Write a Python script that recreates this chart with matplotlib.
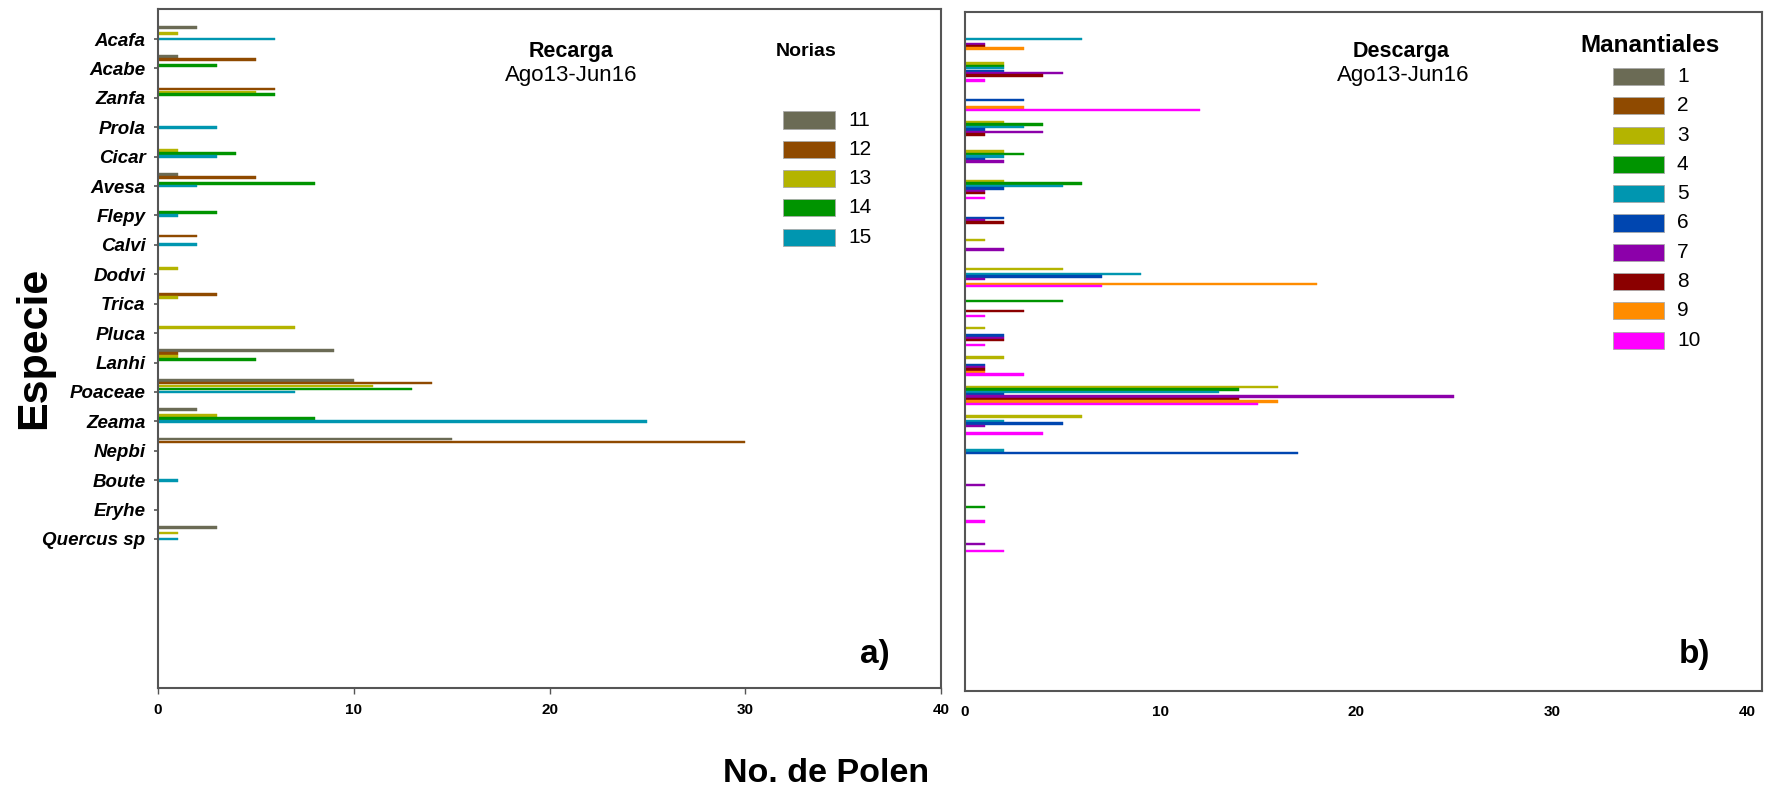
import matplotlib
matplotlib.use("Agg")
import matplotlib.pyplot as plt
from matplotlib.patches import Rectangle
import numpy as np

plt.rcParams['font.family'] = ['Liberation Sans', 'DejaVu Sans']

# ---------------- data ----------------
species = ['Acafa', 'Acabe', 'Zanfa', 'Prola', 'Cicar', 'Avesa', 'Flepy', 'Calvi',
           'Dodvi', 'Trica', 'Pluca', 'Lanhi', 'Poaceae', 'Zeama', 'Nepbi',
           'Boute', 'Eryhe', 'Quercus sp']

# Recarga - Norias 11..15
norias_labels = ['11', '12', '13', '14', '15']
n11 = [2, 1, 0, 0, 0, 1, 0, 0, 0, 0, 0, 9, 10, 2, 15, 0, 0, 3]
n12 = [0, 5, 6, 0, 0, 5, 0, 2, 0, 3, 0, 1, 14, 0, 30, 0, 0, 0]
n13 = [1, 0, 5, 0, 1, 0, 0, 0, 1, 1, 7, 1, 11, 3, 0, 0, 0, 1]
n14 = [0, 3, 6, 0, 4, 8, 3, 0, 0, 0, 0, 5, 13, 8, 0, 0, 0, 0]
n15 = [6, 0, 0, 3, 3, 2, 1, 2, 0, 0, 0, 0, 7, 25, 0, 1, 0, 1]

# Descarga - Manantiales 1..10
man_labels = ['1', '2', '3', '4', '5', '6', '7', '8', '9', '10']
m1 = [0, 0, 0, 0, 0, 0, 0, 0, 0, 0, 0, 0, 0, 0, 0, 0, 0, 0]
m2 = [0, 0, 0, 0, 0, 0, 0, 0, 0, 0, 0, 0, 0, 0, 0, 0, 0, 0]
m3 = [0, 2, 0, 2, 2, 2, 0, 1, 5, 0, 1, 2, 16, 6, 0, 0, 0, 0]
m4 = [0, 2, 0, 4, 3, 6, 0, 0, 0, 5, 0, 0, 14, 0, 0, 0, 1, 0]
m5 = [6, 2, 0, 3, 2, 5, 0, 0, 9, 0, 0, 0, 13, 2, 2, 0, 0, 0]
m6 = [0, 2, 3, 1, 1, 2, 2, 0, 7, 0, 2, 1, 2, 5, 17, 0, 0, 0]
m7 = [1, 5, 0, 4, 2, 1, 1, 2, 1, 0, 2, 1, 25, 1, 0, 1, 0, 1]
m8 = [1, 4, 0, 1, 0, 1, 2, 0, 0, 3, 2, 1, 14, 0, 0, 0, 0, 0]
m9 = [3, 0, 3, 0, 0, 0, 0, 0, 18, 0, 0, 1, 16, 0, 0, 0, 0, 0]
m10 = [0, 1, 12, 0, 0, 1, 0, 0, 7, 1, 1, 3, 15, 4, 0, 0, 1, 2]

norias = [n11, n12, n13, n14, n15]
manantiales = [m1, m2, m3, m4, m5, m6, m7, m8, m9, m10]

norias_colors = ['#6b6b55', '#8f4a00', '#b4b400', '#009400', '#0096b0']
man_colors = ['#6b6b55', '#8f4a00', '#b4b400', '#009400', '#0096b0',
              '#0046b0', '#8c00aa', '#8b0000', '#ff8c00', '#ff00ff']

# ---------------- figure ----------------
W, H = 1774, 793
fig = plt.figure(figsize=(W / 100, H / 100), dpi=100)

def fx(x):
    return x / W

def fy(y):
    return 1 - y / H

frame_col = '#555555'
ypos = np.arange(len(species))
spacing = 29.41  # px per category
xtick_family = ['Liberation Sans Narrow', 'Liberation Sans', 'DejaVu Sans']

# left axes
axL = fig.add_axes([fx(158), fy(688), fx(941) - fx(158), fy(9) - fy(688)])
for k, (vals, col) in enumerate(zip(norias, norias_colors)):
    off = (k - 4) * 0.1
    axL.barh(ypos + off, vals, height=0.095, color=col, edgecolor=col, linewidth=0.3)
axL.set_xlim(0, 40)
axL.set_ylim((688 - 39) / spacing, (9 - 39) / spacing)
axL.set_yticks(ypos)
axL.set_yticklabels(species, fontsize=13.5, fontweight='bold', fontstyle='italic')
axL.set_xticks([0, 10, 20, 30, 40])
axL.tick_params(axis='y', length=3, width=1.2, pad=6, color=frame_col)
axL.tick_params(axis='x', length=4, width=1.0, pad=7, color=frame_col)
for lab in axL.get_xticklabels():
    lab.set_fontfamily(xtick_family)
    lab.set_fontweight('bold')
    lab.set_fontsize(11)

# right axes
axR = fig.add_axes([fx(965), fy(691), fx(1762) - fx(965), fy(12) - fy(691)])
for j, (vals, col) in enumerate(zip(manantiales, man_colors)):
    off = (-5 + (j - 2) * 2.43) / spacing
    axR.barh(ypos + off, vals, height=0.08, color=col, edgecolor=col, linewidth=0.3)
axR.set_xlim(0, (1762 - 965) / 19.56)
axR.set_ylim((691 - 39) / spacing, (12 - 39) / spacing)
axR.set_yticks([])
axR.set_xticks([0, 10, 20, 30, 40])
axR.tick_params(axis='x', length=0, pad=10)
for lab in axR.get_xticklabels():
    lab.set_fontfamily(xtick_family)
    lab.set_fontweight('bold')
    lab.set_fontsize(11)

for ax in (axL, axR):
    for s in ax.spines.values():
        s.set_color(frame_col)
        s.set_linewidth(1.5)

# titles / annotations
fig.text(fx(571), fy(52), 'Recarga', fontsize=15.5, fontweight='bold', ha='center', va='center')
fig.text(fx(571), fy(76), 'Ago13-Jun16', fontsize=16, ha='center', va='center')
fig.text(fx(806), fy(52), 'Norias', fontsize=14, fontweight='bold', ha='center', va='center')
fig.text(fx(1401), fy(52), 'Descarga', fontsize=15.5, fontweight='bold', ha='center', va='center')
fig.text(fx(1403), fy(76), 'Ago13-Jun16', fontsize=16, ha='center', va='center')
fig.text(fx(1650), fy(46), 'Manantiales', fontsize=17.5, fontweight='bold', ha='center', va='center')
fig.text(fx(875), fy(654), 'a)', fontsize=24, fontweight='bold', ha='center', va='center')
fig.text(fx(1694), fy(654), 'b)', fontsize=24, fontweight='bold', ha='center', va='center')
fig.text(fx(34), fy(348), 'Especie', fontsize=31, fontweight='bold', rotation=90,
         ha='center', va='center')
fig.text(fx(826), fy(773), 'No. de Polen', fontsize=24.5, fontweight='bold',
         ha='center', va='center')

# legends (manual)
def legend_entry(x0, x1, yc, col, label, lx):
    h = 17
    fig.add_artist(Rectangle((fx(x0), fy(yc + h / 2)), fx(x1) - fx(x0), h / H,
                             transform=fig.transFigure, facecolor=col,
                             edgecolor='#aaaaaa', linewidth=0.6))
    fig.text(fx(lx), fy(yc), label, fontsize=15, ha='left', va='center')

for i, (lab, col) in enumerate(zip(norias_labels, norias_colors)):
    legend_entry(783, 835, 120 + i * 29.3, col, lab, 848)

for i, (lab, col) in enumerate(zip(man_labels, man_colors)):
    legend_entry(1613, 1664, 76.7 + i * 29.26, col, lab, 1677)

fig.savefig('out.png', dpi=100)
